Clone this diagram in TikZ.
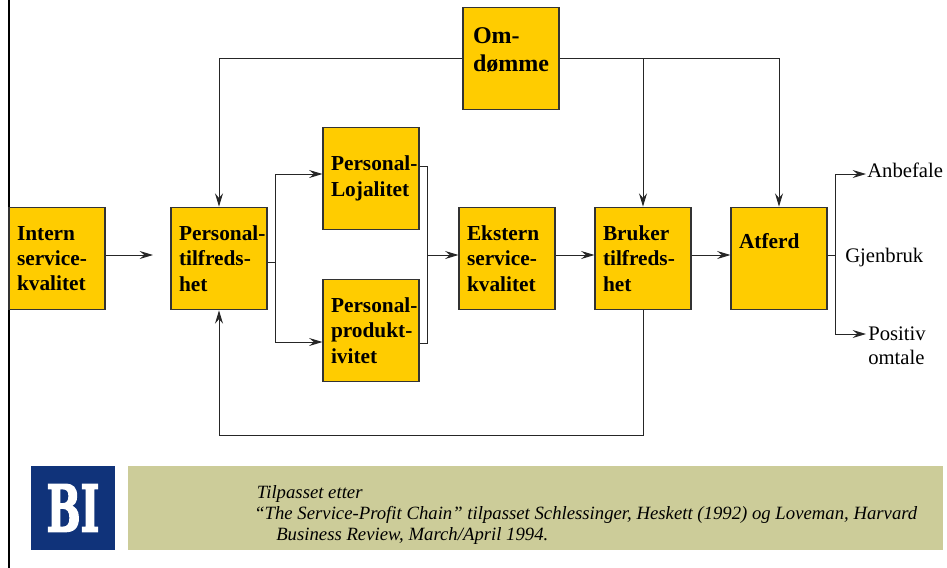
\documentclass[tikz,border=0pt]{standalone}
\usepackage{fontspec}
\setmainfont{Liberation Serif}
\newfontfamily\logofont[FakeBold=3]{DejaVu Serif Bold}
\usetikzlibrary{arrows.meta}
\definecolor{boxyellow}{HTML}{FFCC00}
\definecolor{bandsand}{HTML}{CCCC99}
\definecolor{logoblue}{HTML}{10337A}
\tikzset{
  blockbox/.style={draw=black!80, line width=0.8pt, fill=boxyellow, minimum width=72pt, minimum height=77pt,
    inner sep=0pt, align=left, font=\fontsize{16}{19}\selectfont\bfseries},
  flow/.style={draw=black!85, line width=0.7pt},
  flowarrow/.style={flow, -{Stealth[length=10pt,width=6pt,inset=3.5pt]}},
  sidetext/.style={font=\fontsize{15.5}{18}\selectfont, inner sep=0pt},
}
\begin{document}
\begin{tikzpicture}[x=0.75pt,y=0.75pt,yscale=-1,xscale=1]
\useasboundingbox (0,0) rectangle (947,568);

\draw[line width=2.2pt] (9,0) -- (9,568);

% boxes
\node[blockbox] (intern) at (57,258.5) {\hspace*{6pt}\parbox{66pt}{Intern\\service-\\kvalitet}};
\node[blockbox] (tilfreds) at (219,258.5) {\hspace*{6pt}\parbox{66pt}{Personal-\\tilfreds-\\het}};
\node[blockbox] (lojal) at (371,178.5) {\hspace*{6pt}\raisebox{1pt}{\parbox{66pt}{Personal-\\Lojalitet}}};
\node[blockbox] (produkt) at (371,330.5) {\hspace*{6pt}\parbox{66pt}{Personal-\\produkt-\\ivitet}};
\node[blockbox] (ekstern) at (507,258.5) {\hspace*{6pt}\parbox{66pt}{Ekstern\\service-\\kvalitet}};
\node[blockbox] (bruker) at (643,258.5) {\hspace*{6pt}\parbox{66pt}{Bruker\\tilfreds-\\het}};
\node[blockbox] (atferd) at (779,258.5) {\hspace*{6pt}\parbox{66pt}{Atferd\\[7pt]~}};
\node[blockbox, font=\fontsize{18}{21}\selectfont\bfseries] (omdomme) at (511,58.5) {\hspace*{7.5pt}\parbox{64.5pt}{Om-\\dømme\\[-7pt]~}};

% side texts
\node[sidetext, anchor=west] (anbefale) at (867,170) {Anbefale};
\node[sidetext, anchor=west] (gjenbruk) at (845,258) {Gjenbruk};
\node[sidetext, anchor=west, align=left] (omtale) at (868,345.5) {Positiv\\omtale};

% junctions
\coordinate (internend) at (153,255);
\coordinate (splitleft) at (275,262);
\coordinate (splitright) at (427,255);
\coordinate (splitout) at (835,255);
\coordinate (anbefaleend) at (866,174);
\coordinate (omtaleend) at (866,334);

% arrows
\draw[flowarrow] (intern.east |- internend) -- (internend);
\draw[flow] (tilfreds.east |- splitleft) -- (splitleft);
\draw[flowarrow] (splitleft) |- (lojal.west |- 0,174);
\draw[flowarrow] (splitleft) |- (produkt.west |- 0,342);
\draw[flow] (lojal.east |- 0,166) -| (splitright);
\draw[flow] (produkt.east |- 0,343) -| (splitright);
\draw[flowarrow] (splitright) -- (ekstern.west |- splitright);
\draw[flowarrow] (ekstern.east |- 0,255) -- (bruker.west |- 0,255);
\draw[flowarrow] (bruker.east |- 0,255) -- (atferd.west |- 0,255);
\draw[flow] (atferd.east |- splitout) -- (splitout);
\draw[flowarrow] (splitout) |- (anbefaleend);
\draw[flowarrow] (splitout) |- (omtaleend);
\draw[flowarrow] (omdomme.west) -| (tilfreds.north);
\draw[flowarrow] (omdomme.east) -| (atferd.north);
\draw[flowarrow] (bruker.north |- omdomme.east) -- (bruker.north);
\coordinate (backright) at (643,435);
\draw[flowarrow] (bruker.south) -- (backright) -| (tilfreds.south);

% bottom band
\node[fill=logoblue, minimum width=63pt, minimum height=63pt, inner sep=0pt] (logo) at (73,508) {};
\node[text=white, font=\logofont\fontsize{43}{43}\selectfont, xscale=0.7, yscale=1.12, inner sep=0pt] (logotext) at (logo.center) {BI};
\node[fill=bandsand, minimum width=611.25pt, minimum height=63pt, inner sep=0pt] (band) at (535.5,508) {};
\node[anchor=west, align=left, inner sep=0pt, font=\fontsize{14.05}{16}\selectfont\itshape] (source) at (254,515) {\hspace*{2pt}Tilpasset etter\\“The Service-Profit Chain” tilpasset Schlessinger, Heskett (1992) og Loveman, Harvard\\\hspace*{16.5pt}Business Review, March/April 1994.};

\end{tikzpicture}
\end{document}
